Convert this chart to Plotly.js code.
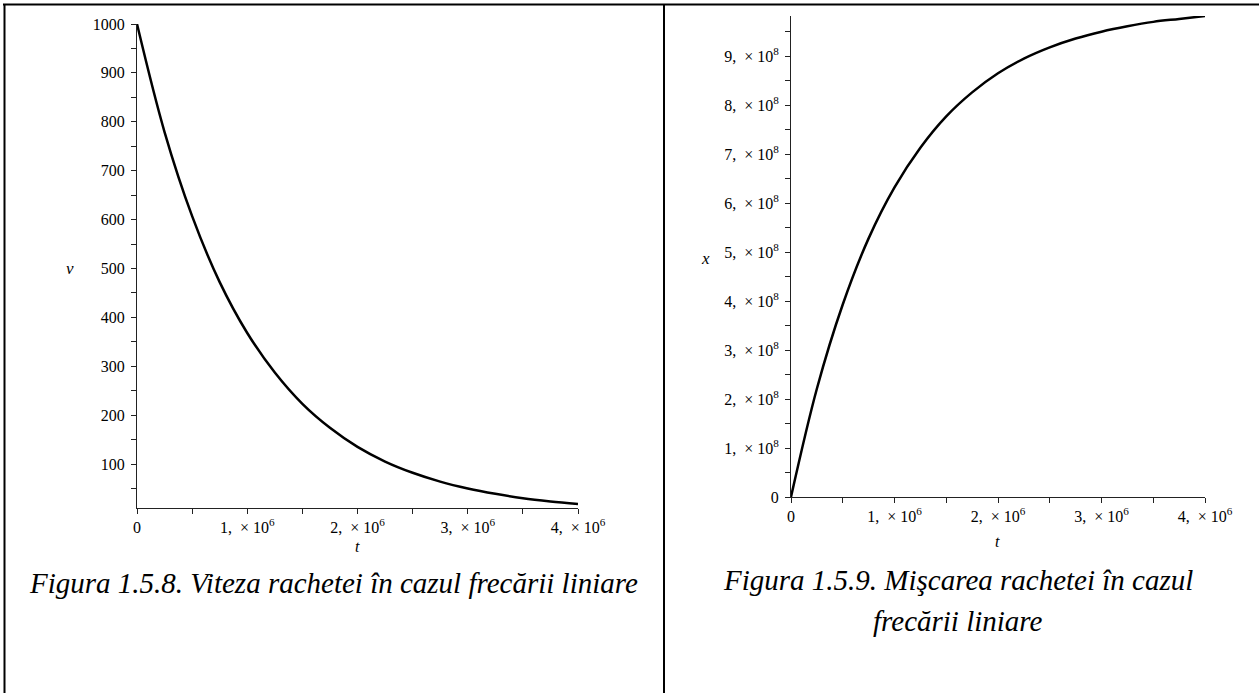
<!DOCTYPE html>
<html>
<head>
<meta charset="utf-8">
<script src="https://cdn.plot.ly/plotly-3.0.1.min.js"></script>
<style>
  html, body { margin: 0; padding: 0; background: #fff; }
  #chart { width: 1259px; height: 693px; }
</style>
</head>
<body>
<div id="chart"></div>
<script>
// ---- data ----
const tValues = [0, 250000, 500000, 750000, 1000000, 1250000, 1500000, 1750000, 2000000,
                 2250000, 2500000, 2750000, 3000000, 3250000, 3500000, 3750000, 4000000];
const velocity = [1000, 779, 607, 472, 368, 287, 223, 174, 135,
                  105, 82, 64, 50, 39, 30, 23.5, 18.3];
const position = [0, 2.21e8, 3.93e8, 5.28e8, 6.32e8, 7.13e8, 7.77e8, 8.26e8, 8.65e8,
                  8.95e8, 9.18e8, 9.36e8, 9.50e8, 9.61e8, 9.70e8, 9.76e8, 9.82e8];

const tTickVals = [0, 1e6, 2e6, 3e6, 4e6];
const tTickText = ['0', '1,\u00A0 × 10<sup>6</sup>', '2,\u00A0 × 10<sup>6</sup>', '3,\u00A0 × 10<sup>6</sup>', '4,\u00A0 × 10<sup>6</sup>'];
const xTickVals = [0, 1e8, 2e8, 3e8, 4e8, 5e8, 6e8, 7e8, 8e8, 9e8];
const xTickText = ['0', '1,\u00A0 × 10<sup>8</sup>', '2,\u00A0 × 10<sup>8</sup>', '3,\u00A0 × 10<sup>8</sup>', '4,\u00A0 × 10<sup>8</sup>',
                   '5,\u00A0 × 10<sup>8</sup>', '6,\u00A0 × 10<sup>8</sup>', '7,\u00A0 × 10<sup>8</sup>', '8,\u00A0 × 10<sup>8</sup>', '9,\u00A0 × 10<sup>8</sup>'];

const captionLeft = 'Figura 1.5.8. Viteza rachetei în cazul frecării liniare';
const captionRight1 = 'Figura 1.5.9. Mişcarea rachetei în cazul';
const captionRight2 = 'frecării liniare';

// ---- layout helpers (pixel -> paper) ----
const W = 1259, H = 693;
const px = v => v / W;
const py = v => 1 - v / H;

const SERIF = 'Liberation Serif, Times New Roman, serif';
const tickFont = { family: SERIF, size: 16, color: '#000' };

function axisBase() {
  return {
    showgrid: false, zeroline: false, showline: true,
    linecolor: '#222', linewidth: 1,
    ticks: 'outside', ticklen: 5, tickwidth: 1, tickcolor: '#222',
    tickfont: tickFont, fixedrange: true
  };
}

const traces = [
  { x: tValues, y: velocity, xaxis: 'x', yaxis: 'y', type: 'scatter', mode: 'lines',
    line: { color: '#000', width: 2.5, shape: 'spline' }, hoverinfo: 'skip' },
  { x: tValues, y: position, xaxis: 'x2', yaxis: 'y2', type: 'scatter', mode: 'lines',
    line: { color: '#000', width: 2.5, shape: 'spline' }, hoverinfo: 'skip' }
];

function label(text, x, y, size, extra) {
  return Object.assign({
    text: text, xref: 'paper', yref: 'paper', x: px(x), y: py(y),
    xanchor: 'center', yanchor: 'middle', showarrow: false,
    font: { family: SERIF, size: size, color: '#000', style: 'italic' }
  }, extra || {});
}

const layout = {
  width: W, height: H,
  margin: { l: 0, r: 0, t: 0, b: 0, pad: 0 },
  paper_bgcolor: '#fff', plot_bgcolor: 'rgba(0,0,0,0)',
  showlegend: false,
  xaxis: Object.assign(axisBase(), {
    domain: [px(137), px(578)], range: [0, 4e6], anchor: 'y',
    tickmode: 'array', tickvals: tTickVals, ticktext: tTickText,
    minor: { ticks: 'outside', ticklen: 5, tickcolor: '#222', dtick: 5e5, tick0: 0 }
  }),
  yaxis: Object.assign(axisBase(), {
    domain: [py(508), py(24)], range: [10, 1000], anchor: 'x',
    tickmode: 'linear', tick0: 0, dtick: 100, tickformat: 'd',
    ticklabelstandoff: 3,
    minor: { ticks: 'outside', ticklen: 5, tickcolor: '#222', dtick: 50, tick0: 0 }
  }),
  xaxis2: Object.assign(axisBase(), {
    domain: [px(791), px(1205)], range: [0, 4e6], anchor: 'y2',
    tickmode: 'array', tickvals: tTickVals, ticktext: tTickText,
    minor: { ticks: 'outside', ticklen: 5, tickcolor: '#222', dtick: 5e5, tick0: 0 }
  }),
  yaxis2: Object.assign(axisBase(), {
    domain: [py(497), py(16)], range: [0, 9.82e8], anchor: 'x2',
    tickmode: 'array', tickvals: xTickVals, ticktext: xTickText,
    ticklabelstandoff: 3,
    minor: { ticks: 'outside', ticklen: 5, tickcolor: '#222', dtick: 5e7, tick0: 0 }
  }),
  shapes: [
    { type: 'line', xref: 'paper', yref: 'paper', x0: px(3), x1: px(1259), y0: py(4.5), y1: py(4.5), line: { color: '#000', width: 2 } },
    { type: 'line', xref: 'paper', yref: 'paper', x0: px(4.5), x1: px(4.5), y0: py(4), y1: py(693), line: { color: '#000', width: 2 } },
    { type: 'line', xref: 'paper', yref: 'paper', x0: px(664), x1: px(664), y0: py(4), y1: py(693), line: { color: '#000', width: 2 } }
  ],
  annotations: [
    label('v', 70, 268, 17),
    label('t', 357, 546, 16),
    label('x', 705, 258, 17),
    label('t', 997, 541, 16),
    label(captionLeft, 333, 583, 29),
    label(captionRight1, 958, 580, 29),
    label(captionRight2, 958, 621, 29)
  ]
};

Plotly.newPlot('chart', traces, layout, { displayModeBar: false, staticPlot: true });
</script>
</body>
</html>
